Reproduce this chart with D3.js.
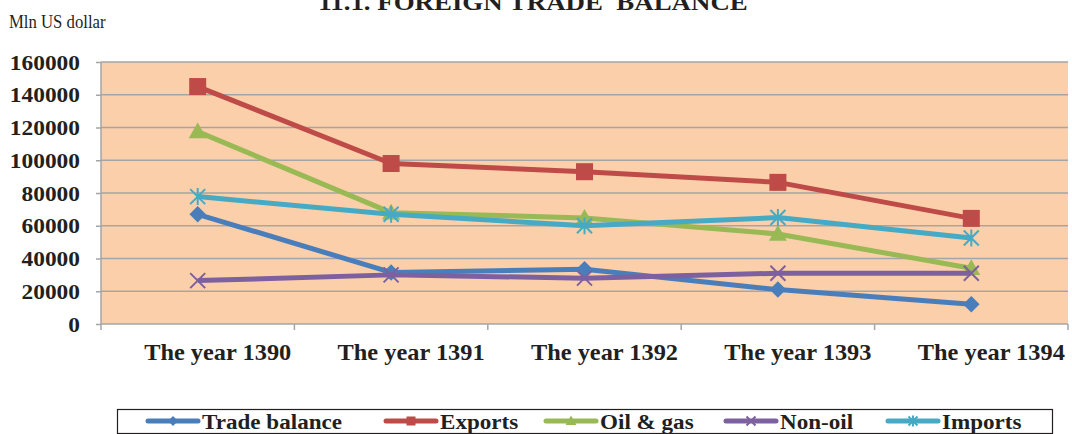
<!DOCTYPE html>
<html>
<head>
<meta charset="utf-8">
<script src="https://cdn.jsdelivr.net/npm/d3@7/dist/d3.min.js"></script>
<style>
  body { margin: 0; background: #fff; }
  svg { display: block; font-family: "Liberation Serif", "Times New Roman", serif; }
</style>
</head>
<body>
<svg id="chart" width="1072" height="434"></svg>
<script>
// chart values
var categories = ['The year 1390', 'The year 1391', 'The year 1392', 'The year 1393', 'The year 1394'];
var seriesNames = ['Trade balance', 'Exports', 'Oil & gas', 'Non-oil', 'Imports'];
var tradeBalance = [67000, 31500, 33500, 21000, 12000];
var exportsVals = [145000, 98000, 93000, 86500, 64500];
var oilGas = [117500, 68000, 64800, 55000, 34000];
var nonOil = [26500, 30000, 28000, 31000, 31000];
var importsVals = [77800, 67000, 60000, 65000, 52500];
var yTicks = [0, 20000, 40000, 60000, 80000, 100000, 120000, 140000, 160000];

var colors = ['#4a7ebb', '#be4b48', '#98b954', '#7d60a0', '#46aac5'];
var markers = ['diamond', 'square', 'triangle', 'x', 'star'];
var seriesVals = [tradeBalance, exportsVals, oilGas, nonOil, importsVals];

var svg = d3.select('#chart');
var plotLeft = 101, plotRight = 1068, plotTop = 62, plotBottom = 324;

var x = d3.scaleBand().domain(categories).range([plotLeft, plotRight]);
var y = d3.scaleLinear().domain([0, 160000]).range([plotBottom, plotTop]);

// plot background
svg.append('rect')
	.attr('x', plotLeft).attr('y', plotTop)
	.attr('width', plotRight - plotLeft).attr('height', plotBottom - plotTop)
	.attr('fill', '#fbcfaa');

// gridlines
svg.append('g').selectAll('line')
	.data(yTicks.filter(function(d) { return d > 0; }))
	.enter().append('line')
	.attr('x1', plotLeft).attr('x2', plotRight)
	.attr('y1', function(d) { return y(d); })
	.attr('y2', function(d) { return y(d); })
	.attr('stroke', '#a5a5a5').attr('stroke-width', 1.5);

// y axis
var yAxis = svg.append('g')
	.attr('transform', 'translate(' + plotLeft + ',0)')
	.call(d3.axisLeft(y).tickValues(yTicks).tickSize(5).tickFormat(d3.format('d')));
yAxis.selectAll('line, path').attr('stroke', '#a5a5a5').attr('stroke-width', 1.5);
yAxis.select('.domain').attr('d', 'M0,' + plotTop + 'V' + plotBottom);
yAxis.selectAll('text')
	.attr('font-family', '"Liberation Serif", serif')
	.attr('font-size', 20).attr('font-weight', 'bold').attr('fill', '#231f20')
	.attr('dy', '0.35em')
	.attr('transform', 'scale(1.17,1)')
	.attr('x', -21 / 1.17);

// x axis (ticks between categories)
var xAxis = svg.append('g').attr('transform', 'translate(0,' + plotBottom + ')');
xAxis.append('line').attr('x1', plotLeft).attr('x2', plotRight)
	.attr('stroke', '#a5a5a5').attr('stroke-width', 1.5);
var bounds = categories.map(function(c) { return x(c); }).concat([plotRight]);
xAxis.selectAll('.tick').data(bounds).enter().append('line')
	.attr('x1', function(d) { return d; }).attr('x2', function(d) { return d; })
	.attr('y1', 0).attr('y2', 6)
	.attr('stroke', '#a5a5a5').attr('stroke-width', 1.5);
xAxis.selectAll('text').data(categories).enter().append('text')
	.attr('transform', function(d) {
		return 'translate(' + (x(d) + x.bandwidth() / 2 + 20) + ',36) scale(1.06,1)';
	})
	.attr('text-anchor', 'middle')
	.attr('font-size', 23).attr('font-weight', 'bold').attr('fill', '#231f20')
	.text(function(d) { return d; });

// marker shapes
function drawMarker(g, type, color, s) {
	var h = s / 2;
	if (type === 'diamond') {
		g.append('path').attr('d', 'M0,' + (-h * 1.1) + 'L' + (h * 1.1) + ',0L0,' + (h * 1.1) + 'L' + (-h * 1.1) + ',0Z').attr('fill', color);
	} else if (type === 'square') {
		g.append('rect').attr('x', -h).attr('y', -h).attr('width', s).attr('height', s).attr('fill', color);
	} else if (type === 'triangle') {
		g.append('path').attr('d', 'M0,' + (-s * 0.6) + 'L' + (s * 0.6) + ',' + (s * 0.45) + 'L' + (-s * 0.6) + ',' + (s * 0.45) + 'Z').attr('fill', color);
	} else if (type === 'x') {
		g.append('path').attr('d', 'M' + (-h) + ',' + (-h) + 'L' + h + ',' + h + 'M' + (-h) + ',' + h + 'L' + h + ',' + (-h))
			.attr('stroke', color).attr('stroke-width', 2);
	} else {
		g.append('path').attr('d', 'M' + (-h) + ',' + (-h) + 'L' + h + ',' + h + 'M' + (-h) + ',' + h + 'L' + h + ',' + (-h) + 'M0,' + (-h - 1) + 'V' + (h + 1))
			.attr('stroke', color).attr('stroke-width', 2);
	}
}

// series lines
var line = d3.line()
	.x(function(d, i) { return x(categories[i]) + x.bandwidth() / 2; })
	.y(function(d) { return y(d); });

seriesVals.forEach(function(vals, si) {
	var g = svg.append('g');
	g.append('path').datum(vals)
		.attr('d', line)
		.attr('fill', 'none').attr('stroke', colors[si])
		.attr('stroke-width', 5).attr('stroke-linejoin', 'round');
	vals.forEach(function(v, i) {
		var mg = g.append('g').attr('transform', 'translate(' + (x(categories[i]) + x.bandwidth() / 2) + ',' + y(v) + ')');
		drawMarker(mg, markers[si], colors[si], si === 1 ? 17 : 15);
	});
});

// title and unit
svg.append('text').attr('transform', 'translate(533,10) scale(1.12,1)').attr('text-anchor', 'middle')
	.attr('font-size', 24).attr('font-weight', 'bold').attr('fill', '#231f20')
	.style('white-space', 'pre')
	.text('11.1. FOREIGN TRADE  BALANCE');
svg.append('text').attr('transform', 'translate(9,28) scale(0.88,1)')
	.attr('font-size', 19).attr('fill', '#231f20')
	.text('Mln US dollar');

// legend
var legend = svg.append('g');
legend.append('rect').attr('x', 117.5).attr('y', 409.5).attr('width', 935).attr('height', 24)
	.attr('fill', '#fff').attr('stroke', '#231f20').attr('stroke-width', 1.2);
var legendX = [148, 386, 546, 726, 888];
seriesNames.forEach(function(name, si) {
	var lg = legend.append('g').attr('transform', 'translate(' + legendX[si] + ',421)');
	lg.append('line').attr('x1', 0).attr('x2', 50)
		.attr('stroke', colors[si]).attr('stroke-width', 5).attr('stroke-linecap', 'round');
	var mg = lg.append('g').attr('transform', 'translate(25,0)');
	drawMarker(mg, markers[si], colors[si], 9);
	lg.append('text').attr('transform', 'translate(54,8) scale(1.05,1)')
		.attr('font-size', 22).attr('font-weight', 'bold').attr('fill', '#231f20')
		.text(name);
});
</script>
</body>
</html>
